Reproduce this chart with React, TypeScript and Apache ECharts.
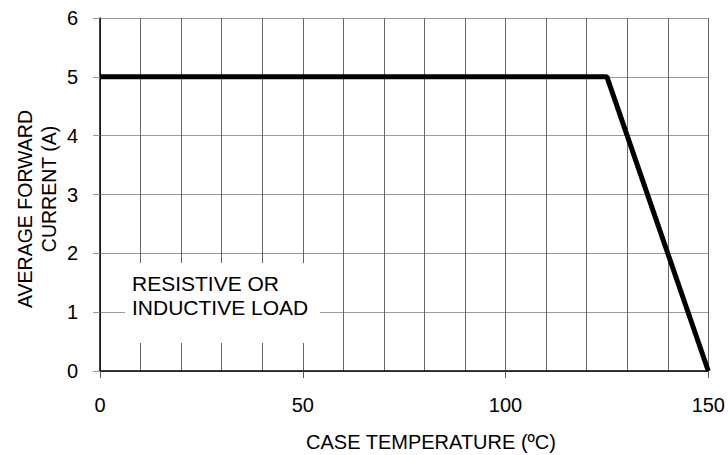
import React, { useEffect, useRef } from "react";
import * as echarts from "echarts";

const curveX = [0, 125, 150];
const curveY = [5, 5, 0];
const xTickLabels = [0, 50, 100, 150];
const yTickLabels = [0, 1, 2, 3, 4, 5, 6];
const noteLines = ["RESISTIVE OR", "INDUCTIVE LOAD"];
const xTitle = "CASE TEMPERATURE (ºC)";
const yTitleLines = ["AVERAGE FORWARD", "CURRENT (A)"];

const FONT = "'Liberation Sans', Arial, sans-serif";

export default function App() {
  const ref = useRef<HTMLDivElement>(null);
  useEffect(() => {
    document.body.style.margin = "0";
    if (!ref.current) return;
    const chart = echarts.init(ref.current, null, { renderer: "svg" });
    chart.setOption({
      animation: false,
      backgroundColor: "#ffffff",
      grid: { left: 100, right: 15, top: 18, bottom: 84, containLabel: false },
      xAxis: {
        type: "value",
        min: 0,
        max: 150,
        interval: 50,
        axisLine: { show: true, onZero: false, lineStyle: { color: "#000", width: 1.5 } },
        axisTick: { show: true, length: 7, lineStyle: { color: "#555" } },
        axisLabel: {
          margin: 24,
          fontFamily: FONT,
          fontSize: 20,
          color: "#000",
          formatter: (v: number) => (xTickLabels.includes(v) ? String(v) : ""),
        },
        splitLine: { show: true, lineStyle: { color: "#666", width: 1 } },
        minorTick: { show: false, splitNumber: 5 },
        minorSplitLine: { show: true, lineStyle: { color: "#666", width: 1 } },
      },
      yAxis: {
        type: "value",
        min: 0,
        max: 6,
        interval: 1,
        axisLine: { show: true, lineStyle: { color: "#000", width: 1.5 } },
        axisTick: { show: true, length: 7, lineStyle: { color: "#999" } },
        axisLabel: {
          margin: 22,
          fontFamily: FONT,
          fontSize: 20,
          color: "#000",
          formatter: (v: number) => (yTickLabels.includes(v) ? String(v) : ""),
        },
        splitLine: { show: true, lineStyle: { color: "#999", width: 1 } },
      },
      graphic: [
        {
          type: "rect",
          shape: { x: 125, y: 263, width: 195, height: 80 },
          style: { fill: "#ffffff" },
          z: 50,
        },
        {
          type: "text",
          x: 132,
          y: 295,
          style: {
            text: noteLines.join("\n"),
            fontFamily: FONT,
            fontSize: 21,
            lineHeight: 24,
            fill: "#000",
            verticalAlign: "middle",
          },
          z: 51,
        },
        {
          type: "text",
          x: 431,
          y: 442,
          style: {
            text: xTitle,
            fontFamily: FONT,
            fontSize: 20,
            fill: "#000",
            align: "center",
            verticalAlign: "middle",
          },
        },
        {
          type: "text",
          x: 25,
          y: 209,
          rotation: Math.PI / 2,
          style: {
            text: yTitleLines[0],
            fontFamily: FONT,
            fontSize: 19.5,
            fill: "#000",
            align: "center",
            verticalAlign: "middle",
          },
        },
        {
          type: "text",
          x: 49,
          y: 189,
          rotation: Math.PI / 2,
          style: {
            text: yTitleLines[1],
            fontFamily: FONT,
            fontSize: 19.5,
            fill: "#000",
            align: "center",
            verticalAlign: "middle",
          },
        },
      ],
      series: [
        {
          type: "line",
          data: curveX.map((x, i) => [x, curveY[i]]),
          symbol: "none",
          lineStyle: { color: "#000", width: 5 },
          clip: false,
          z: 60,
        },
      ],
    });
    return () => chart.dispose();
  }, []);
  return <div ref={ref} style={{ width: 728, height: 455 }} />;
}
